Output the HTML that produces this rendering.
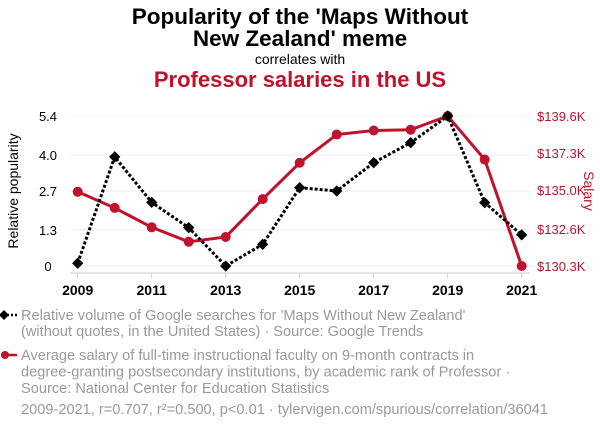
<!DOCTYPE html>
<html><head><meta charset="utf-8">
<style>
body{margin:0;background:#fff;}
svg{display:block;font-family:"Liberation Sans",sans-serif;}
</style></head><body>
<svg id="chart" width="600" height="430" viewBox="0 0 600 430">
<text x="300" y="24" text-anchor="middle" font-size="22.5" font-weight="bold" fill="#000">Popularity of the 'Maps Without</text>
<text x="300" y="46" text-anchor="middle" font-size="22.5" font-weight="bold" fill="#000">New Zealand' meme</text>
<text x="300" y="64" text-anchor="middle" font-size="14" fill="#000">correlates with</text>
<text x="300" y="87" text-anchor="middle" font-size="22" font-weight="bold" fill="#c0122c">Professor salaries in the US</text>
<g id="grid"></g>
<g id="axes"></g>
<g id="marks"></g>
<text transform="translate(18,191) rotate(-90)" text-anchor="middle" font-size="14" fill="#000">Relative popularity</text>
<text transform="translate(584,191) rotate(90)" text-anchor="middle" font-size="14" fill="#c0122c">Salary</text>
<g>
<line x1="3" y1="315" x2="17" y2="315" stroke="#000" stroke-width="2.5" stroke-dasharray="2,2"/>
<rect x="0.5" y="311.5" width="7" height="7" transform="rotate(45 4 315)" fill="#000"/>
<text x="21" y="320" font-size="14.6" fill="#999"><tspan x="21">Relative volume of Google searches for 'Maps Without New Zealand'</tspan><tspan x="21" dy="16">(without quotes, in the United States) · Source: Google Trends</tspan></text>
<line x1="3" y1="355" x2="17" y2="355" stroke="#c0122c" stroke-width="2.5"/>
<circle cx="5" cy="355" r="4" fill="#c0122c"/>
<text x="21" y="360" font-size="14.6" fill="#999"><tspan x="21">Average salary of full-time instructional faculty on 9-month contracts in</tspan><tspan x="21" dy="16.5">degree-granting postsecondary institutions, by academic rank of Professor ·</tspan><tspan x="21" dy="16.5">Source: National Center for Education Statistics</tspan></text>
<text x="21" y="414" font-size="14.6" fill="#999">2009-2021, r=0.707, r²=0.500, p&lt;0.01 · tylervigen.com/spurious/correlation/36041</text>
</g>
</svg>
<script>
const years=[2009,2010,2011,2012,2013,2014,2015,2016,2017,2018,2019,2020,2021];
const searches=[0.1,3.93,2.29,1.38,0,0.78,2.82,2.7,3.72,4.44,5.4,2.28,1.12];
const salary=[134.9,133.9,132.7,131.8,132.1,134.45,136.7,138.45,138.7,138.75,139.6,136.9,130.3];
const leftTicks=[0,1.3,2.7,4.0,5.4];
const rightTicks=[130.3,132.6,135.0,137.3,139.6];
const xTicks=[2009,2011,2013,2015,2017,2019,2021];
const NS="http://www.w3.org/2000/svg";
const X0=77.7,X1=521.7,YB=266,YT=116;
const xs=v=>X0+(v-2009)/(2021-2009)*(X1-X0);
const yl=v=>YB-(v-0)/(5.4-0)*(YB-YT);
const yr=v=>YB-(v-130.3)/(139.6-130.3)*(YB-YT);
function mk(tag,attrs,parent){const e=document.createElementNS(NS,tag);for(const k in attrs)e.setAttribute(k,attrs[k]);parent.appendChild(e);return e;}
const grid=document.getElementById('grid'),axes=document.getElementById('axes'),marks=document.getElementById('marks');
leftTicks.forEach((t,i)=>{
  const y=yl(t);
  const g=mk('line',{x1:70,x2:530,y1:y,y2:y,stroke:'#eee','stroke-width':1},grid);
  
  
  const tl=mk('text',{x:48,y:y+5,'text-anchor':'middle','font-size':13,fill:'#000'},axes);
  tl.textContent=t.toFixed(t===0?0:1);
  
  
});
rightTicks.forEach(t=>{
  const y=yr(t);
  const tl=mk('text',{x:537,y:y+5,'font-size':13,fill:'#c0122c'},axes);
  tl.textContent='$'+t.toFixed(1)+'K';
  
  
});
const ax=mk('line',{x1:70,x2:530,y1:273,y2:273,stroke:'#ccc','stroke-width':1},axes);


xTicks.forEach(t=>{
  const x=xs(t);
  const tk=mk('line',{x1:x,x2:x,y1:273,y2:278,stroke:'#ccc'},axes);
  
  
  const tl=mk('text',{x:x,y:295,'text-anchor':'middle','font-size':14,'font-weight':'bold',fill:'#000'},axes);
  tl.textContent=t;
  
  
});
const rp=mk('polyline',{points:years.map((y,i)=>xs(y)+','+yr(salary[i])).join(' '),fill:'none',stroke:'#c0122c','stroke-width':3},marks);


const bp=mk('polyline',{points:years.map((y,i)=>xs(y)+','+yl(searches[i])).join(' '),fill:'none',stroke:'#000','stroke-width':3,'stroke-dasharray':'3,2'},marks);


years.forEach((y,i)=>{
  const c=mk('circle',{cx:xs(y),cy:yr(salary[i]),r:5,fill:'#c0122c'},marks);
  
  
});
years.forEach((y,i)=>{
  const x=xs(y),yy=yl(searches[i]);
  const d=mk('rect',{x:x-4,y:yy-4,width:8,height:8,fill:'#000',transform:`rotate(45 ${x} ${yy})`},marks);
  
  
});
</script>
</body></html>
